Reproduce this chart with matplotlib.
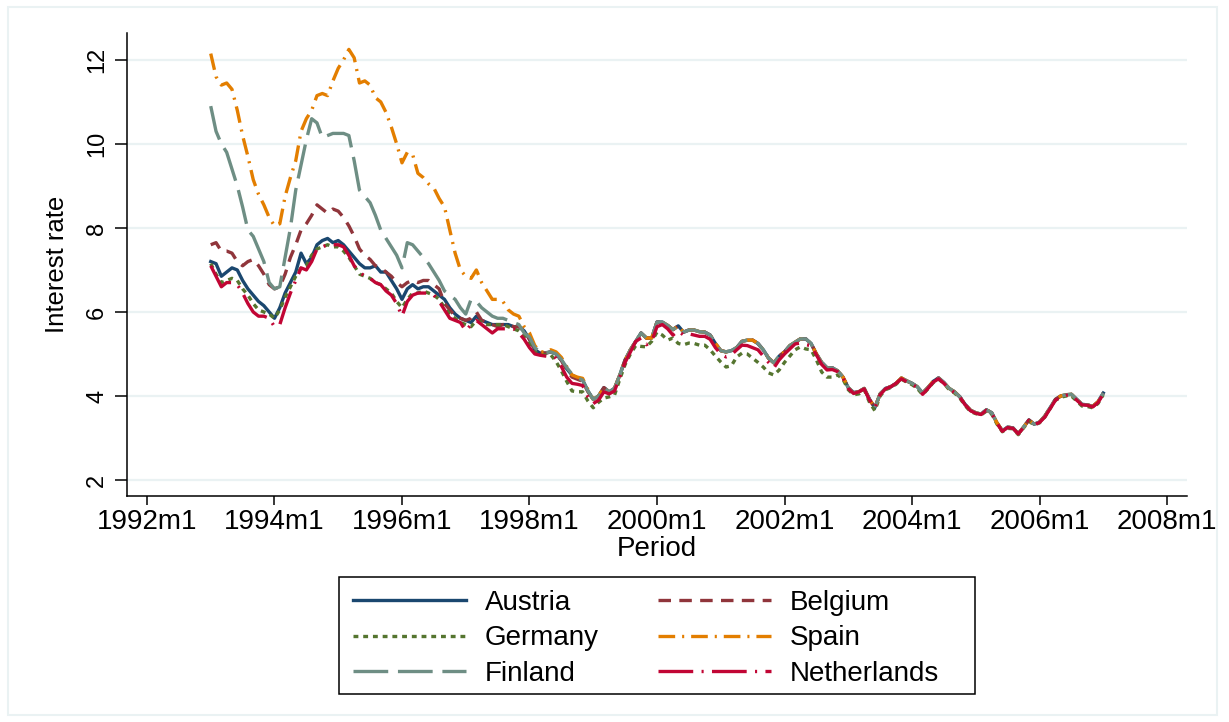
import matplotlib
matplotlib.use("Agg")
import matplotlib.pyplot as plt
from matplotlib.patches import Rectangle
import numpy as np

plt.rcParams["font.family"] = ["Liberation Sans", "DejaVu Sans"]
plt.rcParams["lines.scale_dashes"] = False

# x axis is counted in months after 1992m1, first observation is 1993m1
first_month = 12
tick_months = [0, 24, 48, 72, 96, 120, 144, 168, 192]
tick_labels = ["1992m1", "1994m1", "1996m1", "1998m1", "2000m1",
               "2002m1", "2004m1", "2006m1", "2008m1"]
y_ticks = [2, 4, 6, 8, 10, 12]

# 1993m1 - 1998m12
austria_head = [
    7.2, 7.15, 6.85, 6.95, 7.05, 7.0, 6.75, 6.55, 6.4, 6.25, 6.15, 6.0,
    5.85, 6.1, 6.45, 6.7, 6.95, 7.4, 7.15, 7.3, 7.6, 7.7, 7.75, 7.65,
    7.7, 7.6, 7.45, 7.3, 7.15, 7.05, 7.05, 7.1, 6.95, 6.95, 6.75, 6.55,
    6.3, 6.55, 6.65, 6.55, 6.6, 6.6, 6.5, 6.4, 6.3, 6.1, 5.95, 5.85,
    5.8, 5.75, 5.9, 5.8, 5.75, 5.7, 5.7, 5.7, 5.7, 5.65, 5.65, 5.55,
    5.35, 5.1, 5.02, 5.02, 5.05, 5.0, 4.85, 4.65, 4.5, 4.43, 4.38, 4.12,
]
belgium_head = [
    7.6, 7.65, 7.45, 7.45, 7.4, 7.2, 7.1, 7.2, 7.25, 7.1, 6.9, 6.65,
    6.55, 6.6, 6.9, 7.3, 7.6, 7.95, 8.1, 8.3, 8.55, 8.45, 8.35, 8.45,
    8.4, 8.25, 8.05, 7.8, 7.5, 7.35, 7.25, 7.1, 7.05, 6.95, 6.85, 6.7,
    6.6, 6.7, 6.75, 6.7, 6.75, 6.75, 6.65, 6.55, 6.2, 6.05, 5.9, 5.85,
    5.8, 5.85, 6.0, 5.8, 5.75, 5.7, 5.65, 5.7, 5.7, 5.65, 5.65, 5.55,
    5.35, 5.12, 5.04, 5.02, 5.05, 5.0, 4.85, 4.62, 4.45, 4.4, 4.35, 4.1,
]
germany_head = [
    7.15, 6.9, 6.7, 6.75, 6.8, 6.75, 6.55, 6.4, 6.2, 6.05, 6.0, 5.95,
    5.85, 6.05, 6.35, 6.6, 6.85, 7.05, 7.1, 7.35, 7.5, 7.55, 7.6, 7.55,
    7.55, 7.45, 7.3, 7.1, 6.9, 6.85, 6.8, 6.7, 6.65, 6.55, 6.45, 6.25,
    6.1, 6.3, 6.45, 6.45, 6.5, 6.45, 6.4, 6.3, 6.1, 5.95, 5.85, 5.75,
    5.7, 5.65, 5.8, 5.75, 5.7, 5.7, 5.7, 5.7, 5.65, 5.6, 5.55, 5.45,
    5.25, 5.05, 4.98, 4.98, 4.98, 4.82, 4.6, 4.35, 4.12, 4.1, 4.1, 3.88,
]
spain_head = [
    12.15, 11.6, 11.4, 11.45, 11.3, 10.8, 10.2, 9.7, 9.15, 8.8, 8.55, 8.25,
    8.05, 8.1, 8.75, 9.2, 9.6, 10.3, 10.6, 10.8, 11.15, 11.2, 11.15, 11.5,
    11.8, 12.0, 12.25, 12.05, 11.45, 11.5, 11.4, 11.1, 11.0, 10.75, 10.4, 10.0,
    9.55, 9.8, 9.75, 9.3, 9.2, 9.05, 8.95, 8.7, 8.5, 7.95, 7.4, 7.0,
    6.85, 6.8, 7.0, 6.7, 6.5, 6.3, 6.3, 6.25, 6.05, 5.95, 5.9, 5.65,
    5.5, 5.2, 5.05, 5.05, 5.1, 5.05, 4.92, 4.7, 4.5, 4.45, 4.42, 4.15,
]
finland_head = [
    10.9, 10.3, 10.0, 9.8, 9.4, 9.0, 8.5, 7.95, 7.8, 7.5, 7.2, 6.7,
    6.55, 6.6, 7.3, 8.0, 8.9, 9.5, 10.1, 10.6, 10.5, 10.15, 10.2, 10.25,
    10.25, 10.25, 10.2, 9.6, 8.9, 8.75, 8.6, 8.3, 7.95, 7.75, 7.55, 7.35,
    7.05, 7.65, 7.6, 7.45, 7.3, 7.15, 6.95, 6.75, 6.5, 6.4, 6.3, 6.1,
    5.95, 6.3, 6.25, 6.1, 6.0, 5.9, 5.85, 5.85, 5.8, 5.75, 5.7, 5.5,
    5.4, 5.15, 5.05, 5.03, 5.05, 5.0, 4.87, 4.68, 4.52, 4.43, 4.38, 4.12,
]
netherlands_head = [
    7.1, 6.85, 6.6, 6.7, 6.7, 6.65, 6.45, 6.2, 6.0, 5.9, 5.9, 5.85,
    5.65, 5.7, 6.1, 6.45, 6.75, 7.05, 7.0, 7.2, 7.5, 7.55, 7.6, 7.6,
    7.6, 7.55, 7.35, 7.1, 6.95, 6.85, 6.8, 6.7, 6.65, 6.5, 6.4, 6.2,
    5.9, 6.25, 6.4, 6.45, 6.45, 6.45, 6.4, 6.25, 6.05, 5.85, 5.8, 5.75,
    5.55, 5.7, 5.8, 5.7, 5.6, 5.5, 5.6, 5.6, 5.6, 5.6, 5.5, 5.35,
    5.15, 5.0, 4.97, 4.95, 4.95, 4.9, 4.7, 4.45, 4.3, 4.28, 4.25, 3.98,
]

# 1999m1 - 2007m1, Austria, Belgium, Spain and Finland overlap here
core_tail = [
    3.92, 4.0, 4.2, 4.1, 4.18, 4.5, 4.86, 5.1, 5.3, 5.5, 5.38, 5.38,
    5.76, 5.76, 5.68, 5.58, 5.67, 5.52, 5.57, 5.57, 5.53, 5.52, 5.45, 5.25,
    5.08, 5.05, 5.08, 5.15, 5.3, 5.33, 5.33, 5.25, 5.1, 4.9, 4.79, 4.95,
    5.05, 5.2, 5.28, 5.36, 5.36, 5.25, 5.0, 4.8, 4.67, 4.67, 4.6, 4.45,
    4.2, 4.08, 4.1, 4.18, 3.92, 3.72, 4.05, 4.18, 4.22, 4.3, 4.43, 4.36,
    4.3, 4.22, 4.07, 4.2, 4.35, 4.43, 4.32, 4.18, 4.1, 3.98, 3.8, 3.66,
    3.6, 3.57, 3.67, 3.6, 3.36, 3.17, 3.26, 3.24, 3.1, 3.26, 3.43, 3.33,
    3.38, 3.52, 3.72, 3.92, 4.0, 4.03, 4.04, 3.92, 3.8, 3.79, 3.75, 3.86,
    4.07,
]
germany_tail = [
    3.72, 3.85, 3.95, 3.98, 4.02, 4.4, 4.75, 5.0, 5.2, 5.18, 5.17, 5.3,
    5.52, 5.45, 5.33, 5.38, 5.25, 5.22, 5.26, 5.25, 5.21, 5.21, 5.1, 4.95,
    4.81, 4.69, 4.72, 4.93, 5.02, 5.0, 4.9, 4.8, 4.69, 4.55, 4.5, 4.62,
    4.8, 4.95, 5.1, 5.17, 5.12, 5.1, 4.86, 4.57, 4.45, 4.45, 4.5, 4.4,
    4.15, 4.03, 4.05, 4.15, 3.85, 3.65, 4.0, 4.15, 4.2, 4.28, 4.4, 4.33,
    4.27, 4.18, 4.03, 4.17, 4.32, 4.4, 4.3, 4.15, 4.07, 3.95, 3.77, 3.63,
    3.58, 3.55, 3.64, 3.57, 3.33, 3.15, 3.23, 3.22, 3.08, 3.24, 3.4, 3.31,
    3.36, 3.5, 3.7, 3.9, 3.97, 4.0, 4.0, 3.88, 3.76, 3.75, 3.72, 3.82,
    4.03,
]
netherlands_tail = [
    3.82, 3.9, 4.1, 4.05, 4.12, 4.45, 4.8, 5.05, 5.3, 5.38, 5.22, 5.3,
    5.65, 5.7, 5.6, 5.45, 5.55, 5.45, 5.48, 5.45, 5.42, 5.42, 5.35, 5.15,
    5.0, 4.93, 4.98, 5.1, 5.21, 5.2, 5.15, 5.1, 4.95, 4.8, 4.67, 4.86,
    5.0, 5.12, 5.24, 5.26, 5.22, 5.2, 4.98, 4.75, 4.62, 4.63, 4.58, 4.43,
    4.18, 4.06, 4.1, 4.17, 3.9, 3.72, 4.03, 4.17, 4.22, 4.3, 4.41, 4.34,
    4.28, 4.2, 4.04, 4.18, 4.33, 4.41, 4.3, 4.17, 4.08, 3.97, 3.79, 3.65,
    3.59, 3.56, 3.66, 3.59, 3.35, 3.16, 3.25, 3.23, 3.1, 3.25, 3.42, 3.32,
    3.37, 3.5, 3.7, 3.9, 3.98, 4.02, 4.02, 3.9, 3.79, 3.78, 3.74, 3.84,
    4.05,
]

countries = ["Austria", "Belgium", "Germany", "Spain", "Finland", "Netherlands"]
series = {
    "Austria": austria_head + core_tail,
    "Belgium": belgium_head + core_tail,
    "Germany": germany_head + germany_tail,
    "Spain": spain_head + core_tail,
    "Finland": finland_head + core_tail,
    "Netherlands": netherlands_head + netherlands_tail,
}

# stata s2color look
styles = {
    "Austria": dict(color="#1a476f", linestyle="-"),
    "Belgium": dict(color="#90353b", dashes=(9, 6)),
    "Germany": dict(color="#55752f", dashes=(3.5, 3.5)),
    "Spain": dict(color="#e37e00", dashes=(12, 5, 1.5, 5)),
    "Finland": dict(color="#6e8e84", dashes=(25, 7)),
    "Netherlands": dict(color="#c10534", dashes=(25, 6, 1.5, 6)),
}

W, H = 1229, 722
fig = plt.figure(figsize=(W / 100, H / 100), dpi=100)
ax = fig.add_axes([127 / W, 1 - 496 / H, 1060 / W, 463 / H])

lines = {}
for c in countries:
    vals = series[c]
    x = first_month + np.arange(len(vals))
    ln, = ax.plot(x, vals, lw=2.4, label=c, **styles[c])
    lines[c] = ln

ax.set_xlim(-3.76, 195.76)
ax.set_ylim(1.62, 12.64)
ax.set_xticks(tick_months)
ax.set_xticklabels(tick_labels, fontsize=20)
ax.set_yticks(y_ticks)
ax.set_yticklabels([str(v) for v in y_ticks], fontsize=17, rotation=90, va="center")
ax.tick_params(axis="x", length=6.5, width=1.1, pad=3)
ax.tick_params(axis="y", length=8.5, width=1.1, pad=5)

ax.spines["top"].set_visible(False)
ax.spines["right"].set_visible(False)
ax.spines["left"].set_linewidth(1.1)
ax.spines["bottom"].set_linewidth(1.1)
ax.yaxis.grid(True, color="#eaf2f3", lw=1.6)
ax.set_axisbelow(True)

fig.text(57 / W, 1 - 264 / H, "Interest rate", rotation=90, ha="center", va="center", fontsize=18.5)
fig.text(657 / W, 1 - 549 / H, "Period", ha="center", va="center", fontsize=20)

order = ["Austria", "Germany", "Finland", "Belgium", "Spain", "Netherlands"]
fig.legend([lines[c] for c in order], order, ncol=2, loc="upper left",
           bbox_to_anchor=(353 / W, 1 - 590 / H), frameon=False, fontsize=20,
           handlelength=4.07, handletextpad=0.68, columnspacing=2.13,
           labelspacing=0.34, borderpad=0, borderaxespad=0)

# legend frame and outer graph border
fig.patches.append(Rectangle((339 / W, 1 - 694 / H), 636 / W, 117 / H,
                             transform=fig.transFigure, fill=False,
                             edgecolor="black", lw=1.1))
fig.patches.append(Rectangle((8 / W, 1 - 715 / H), 1209 / W, 708 / H,
                             transform=fig.transFigure, fill=False,
                             edgecolor="#eaf2f3", lw=1.5))

fig.savefig("out.png", dpi=100)
